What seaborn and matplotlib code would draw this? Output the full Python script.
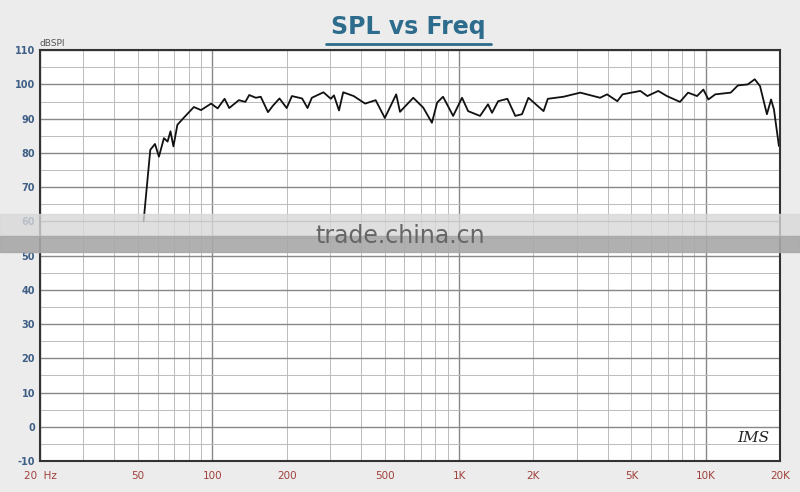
import numpy as np
import pandas as pd
import matplotlib
matplotlib.use("Agg")
import matplotlib.pyplot as plt
import seaborn as sns
from matplotlib.ticker import FixedLocator, NullFormatter

freq = [52.6, 56, 58.5, 60.7, 63.6, 65.8, 67.6, 69.5, 72.1, 76.4, 84.1, 89.9, 98.8, 105, 112, 117,
        128, 136, 141, 150, 157, 168, 176, 187, 200, 210, 231, 243, 253, 282, 302, 311, 326, 339,
        374, 416, 459, 500, 556, 576, 652, 716, 776, 815, 861, 946, 1028, 1088, 1216, 1310, 1360,
        1440, 1570, 1690, 1800, 1910, 2200, 2290, 2650, 3100, 3730, 3980, 4380, 4600, 5430, 5800,
        6420, 6960, 7860, 8480, 9220, 9780, 10250, 10930, 12620, 13500, 14800, 15800, 16600,
        17700, 18400, 18900, 19800]
spl = [60, 80.9, 82.6, 78.9, 84.3, 83.3, 86.3, 81.9, 88.2, 90.2, 93.4, 92.5, 94.4, 93.0, 95.8, 93.1,
       95.4, 94.9, 96.9, 96.1, 96.4, 91.9, 93.8, 95.9, 93.1, 96.6, 95.9, 93.1, 96.1, 97.7, 95.8, 96.8,
       92.4, 97.7, 96.6, 94.4, 95.4, 90.2, 97.1, 92.0, 96.1, 93.2, 88.8, 94.7, 96.4, 90.8, 96.1, 92.2,
       90.8, 94.2, 91.7, 95.1, 95.8, 90.8, 91.3, 96.1, 92.2, 95.8, 96.4, 97.6, 96.1, 97.1, 95.1, 97.1,
       98.1, 96.6, 98.1, 96.6, 94.9, 97.6, 96.6, 98.5, 95.6, 97.1, 97.6, 99.7, 100, 101.5, 99.5,
       91.3, 95.6, 92.7, 82]
xtick_vals = [20, 50, 100, 200, 500, 1000, 2000, 5000, 10000, 20000]
xtick_labels = ["20  Hz", "50", "100", "200", "500", "1K", "2K", "5K", "10K", "20K"]
ytick_vals = list(range(-10, 111, 10))

df = pd.DataFrame({"freq": freq, "spl": spl})

sns.set_style("white")
fig = plt.figure(figsize=(8, 4.92), dpi=100, facecolor="#ececec")
ax = fig.add_axes([0.05, 0.063, 0.925, 0.835])
ax.set_facecolor("white")
sns.lineplot(data=df, x="freq", y="spl", ax=ax, color="#111111", linewidth=1.3)
ax.set_xscale("log")
ax.set_xlim(20, 20000)
ax.set_ylim(-10, 110)

minor = [m * 10 ** e for e in range(1, 5) for m in range(2, 10) if 20 <= m * 10 ** e <= 20000]
ax.xaxis.set_major_locator(FixedLocator([20, 100, 1000, 10000]))
ax.xaxis.set_minor_locator(FixedLocator(minor))
ax.xaxis.set_major_formatter(NullFormatter())
ax.xaxis.set_minor_formatter(NullFormatter())
ax.yaxis.set_major_locator(FixedLocator(ytick_vals))
ax.yaxis.set_minor_locator(FixedLocator(list(range(-5, 110, 10))))
ax.grid(which="major", color="#888888", linewidth=1.0)
ax.grid(which="minor", color="#bbbbbb", linewidth=0.7)
ax.tick_params(which="both", length=0)
ax.set_yticklabels([str(v) for v in ytick_vals], color="#3f5f86", fontsize=7, fontweight="bold")
for v, lab in zip(xtick_vals, xtick_labels):
    ax.text(v, -0.025, lab, transform=ax.get_xaxis_transform(), ha="center", va="top",
            color="#a0403a", fontsize=7.5)
ax.set_xlabel("")
ax.set_ylabel("")
for s in ax.spines.values():
    s.set_color("#333333")
    s.set_linewidth(1.5)
ax.text(0.0, 1.005, "dBSPl", transform=ax.transAxes, fontsize=6.5, color="#555555", va="bottom")
ax.text(0.985, 0.04, "IMS", transform=ax.transAxes, fontsize=11, style="italic", ha="right",
        va="bottom", color="#222222", family="DejaVu Serif")
t = fig.text(0.51, 0.945, "SPL vs Freq", ha="center", va="center", fontsize=17,
             fontweight="bold", color="#2d6c8c")
fig.add_artist(plt.Line2D([0.407, 0.614], [0.91, 0.91], color="#2d6c8c", linewidth=2))

# watermark band
fig.patches.append(plt.Rectangle((0, 0.52), 1, 0.045, transform=fig.transFigure,
                                 color="#d8d8d8", alpha=0.8, zorder=5))
fig.patches.append(plt.Rectangle((0, 0.487), 1, 0.033, transform=fig.transFigure,
                                 color="#a8a8a8", alpha=0.9, zorder=5))
fig.text(0.5, 0.52, "trade.china.cn", ha="center", va="center", fontsize=17, color="#666666",
         zorder=6)

fig.savefig("out.png", dpi=100, facecolor=fig.get_facecolor())
